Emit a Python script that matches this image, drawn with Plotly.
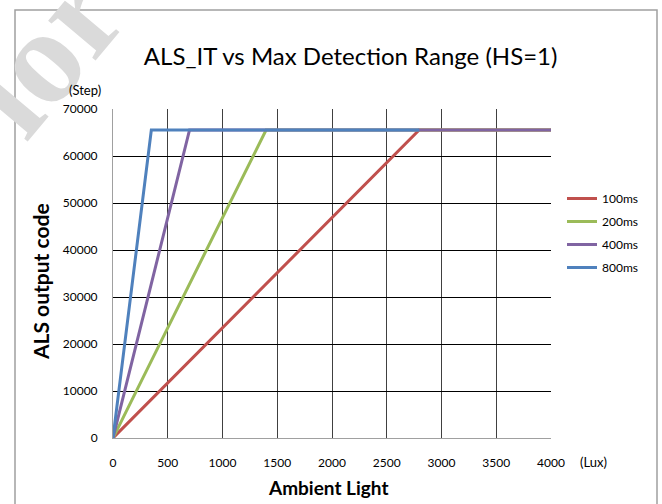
import plotly.graph_objects as go

series_names = ["100ms", "200ms", "400ms", "800ms"]
series_colors = ["#C0504D", "#9BBB59", "#8064A2", "#4F81BD"]
lux_100 = [0, 2796, 4000]
code_100 = [0, 65535, 65535]
lux_200 = [0, 1398, 4000]
code_200 = [0, 65535, 65535]
lux_400 = [0, 699, 4000]
code_400 = [0, 65535, 65535]
lux_800 = [0, 350, 2796]
code_800 = [0, 65535, 65535]
x_ticks = [0, 500, 1000, 1500, 2000, 2500, 3000, 3500, 4000]
y_ticks = [0, 10000, 20000, 30000, 40000, 50000, 60000, 70000]

xs = [lux_100, lux_200, lux_400, lux_800]
ys = [code_100, code_200, code_400, code_800]

W, H = 662, 504
L, R, T, B = 113, 551, 109, 438
pw, ph = R - L, B - T

def px(x):
    return (x - L) / pw

def py(y):
    return (B - y) / ph

fig = go.Figure()
for name, col, x, y in zip(series_names, series_colors, xs, ys):
    fig.add_trace(go.Scatter(x=x, y=y, mode="lines", name=name, legendgroup=name,
                             line=dict(color=col, width=3)))

fig.update_layout(
    width=W, height=H,
    margin=dict(l=L, r=W - R, t=T, b=H - B),
    paper_bgcolor="white", plot_bgcolor="white",
    font=dict(family="Lato", size=12, color="black"),
    showlegend=True,
    legend=dict(x=px(562), y=py(184), xanchor="left", yanchor="top",
                font=dict(family="Lato", size=12, color="black"),
                tracegroupgap=4, itemwidth=30, bgcolor="rgba(0,0,0,0)"),
    title=dict(text="ALS_IT vs Max Detection Range (HS=1)", x=px(345), xanchor="center",
               y=1 - 57 / H, yanchor="middle",
               font=dict(family="Lato", size=24, color="black")),
    xaxis=dict(range=[0, 4000], tickvals=x_ticks, tickformat="d", showgrid=True,
               gridcolor="#404040", gridwidth=1, zeroline=False, showline=True,
               linecolor="#a0a0a0", linewidth=1,
               ticks="", ticklabelstandoff=14, tickfont=dict(size=12, family="Lato")),
    yaxis=dict(range=[0, 70000], tickvals=y_ticks, tickformat="d", showgrid=True,
               gridcolor="black", gridwidth=1, zeroline=False, showline=True,
               linecolor="#a0a0a0", linewidth=1,
               ticks="", ticklabelstandoff=12, tickfont=dict(size=12, family="Lato")),
)

fig.add_annotation(text="<b>ior</b>", xref="paper", yref="paper", x=px(44), y=py(52),
                   xanchor="center", yanchor="middle",
                   showarrow=False, textangle=-50,
                   font=dict(family="Liberation Serif", size=135, color="#dadada"))

fig.add_shape(type="rect", xref="paper", yref="paper", x0=px(15), x1=px(657),
              y0=py(560), y1=py(10), line=dict(color="#a0a0a0", width=1.5),
              fillcolor="rgba(0,0,0,0)", layer="above")

fig.add_annotation(text="(Step)", xref="paper", yref="paper", x=px(85), y=py(90),
                   xanchor="center", yanchor="middle",
                   showarrow=False, font=dict(size=13, family="Lato"))
fig.add_annotation(text="(Lux)", xref="paper", yref="paper", x=px(593), y=py(462),
                   xanchor="center", yanchor="middle",
                   showarrow=False, font=dict(size=13, family="Lato"))
fig.add_annotation(text="<b>Ambient Light</b>", xref="paper", yref="paper", x=px(328), y=py(487),
                   xanchor="center", yanchor="middle",
                   showarrow=False, font=dict(size=19, family="Lato"))
fig.add_annotation(text="<b>ALS output code</b>", xref="paper", yref="paper", x=px(40), y=py(282),
                   xanchor="center", yanchor="middle",
                   showarrow=False, textangle=-90, font=dict(size=21, family="Lato"))

fig.write_html("out.html", config={"displayModeBar": False},
               post_script="document.body.style.margin='0px';")
